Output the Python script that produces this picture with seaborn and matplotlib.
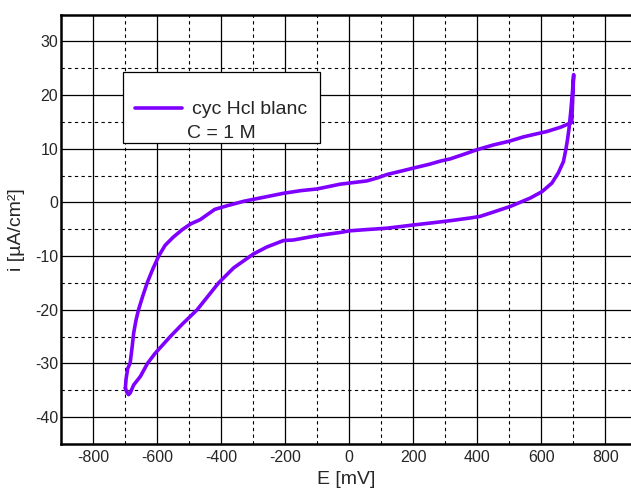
import matplotlib
matplotlib.use("Agg")
import matplotlib.pyplot as plt
from matplotlib.offsetbox import DrawingArea
import seaborn as sns
import pandas as pd
import numpy as np

# forward scan (-700 -> 700 mV)
E_fwd = [-699, -697, -692, -684, -678, -673, -666, -658, -645, -631, -614, -595, -575, -550,
         -522, -495, -465, -420, -380, -330, -280, -230, -205, -150, -101, -60, -28, 0, 55, 90,
         118, 160, 201, 250, 285, 315, 360, 398, 450, 500, 544, 580, 617, 660, 695, 701]
i_fwd = [-34.6, -33.0, -31.0, -29.9, -27.0, -24.3, -22.0, -20.0, -17.5, -15.0, -12.5, -10.0, -8.0, -6.5,
         -5.1, -4.0, -3.2, -1.3, -0.6, 0.2, 0.8, 1.4, 1.7, 2.2, 2.5, 3.0, 3.4, 3.6, 4.0, 4.6,
         5.2, 5.8, 6.4, 7.1, 7.7, 8.1, 9.0, 9.8, 10.7, 11.4, 12.2, 12.7, 13.2, 14.0, 14.9, 23.8]
# reverse scan (700 -> -700 mV)
E_rev = [697, 692, 687, 682, 677, 669, 653, 633, 602, 565, 503, 450, 409, 378, 316, 260,
         201, 160, 118, 45, 0, -28, -101, -174, -205, -257, -299, -361, -408, -475, -520, -559,
         -606, -630, -652, -673, -684, -689, -694, -699]
i_rev = [20.5, 17.0, 14.0, 11.8, 10.0, 7.6, 5.5, 3.6, 2.0, 0.8, -0.75, -1.8, -2.6, -2.9, -3.4, -3.8,
         -4.2, -4.5, -4.8, -5.1, -5.3, -5.6, -6.2, -7.0, -7.1, -8.3, -9.6, -12.2, -15.0, -20.0, -22.6, -25.0,
         -28.1, -30.0, -32.4, -34.0, -35.5, -35.8, -35.4, -34.6]

series_label = "cyc Hcl blanc"
conc_label = "C = 1 M"

E = E_fwd + E_rev
I = i_fwd + i_rev
df = pd.DataFrame({"E": E, "i": I, "s": series_label})

sns.set_style("white")
plt.rcParams["font.family"] = ["Liberation Sans", "DejaVu Sans"]
plt.rcParams["axes.unicode_minus"] = False

fig = plt.figure(figsize=(6.31, 4.88), dpi=100)
ax = fig.add_axes([61/631, 1-444/488, 1-61/631, (444-14.5)/488])

sns.lineplot(data=df, x="E", y="i", hue="s", sort=False, estimator=None,
             palette=["#7F00FF"], lw=2.6, ax=ax)

ax.set_xlim(-900, 880)
ax.set_ylim(-45, 35)
ax.set_xticks(np.arange(-800, 801, 200))
ax.set_xticks(np.arange(-700, 801, 200), minor=True)
ax.set_yticks(np.arange(-40, 31, 10))
ax.set_yticks(np.arange(-35, 31, 10), minor=True)
ax.grid(which="major", color="black", lw=0.9, ls="-")
ax.grid(which="minor", color="black", lw=0.8, ls=(0, (3, 3)))
ax.set_axisbelow(True)
ax.tick_params(which="both", length=0, labelsize=11.5, pad=2)
ax.tick_params(axis="x", pad=4)
for s in ["left", "bottom", "top"]:
    ax.spines[s].set_color("black")
    ax.spines[s].set_linewidth(1.8)
ax.spines["right"].set_visible(False)

ax.set_xlabel("E [mV]", fontsize=14, labelpad=5)
ax.set_ylabel("i [µA/cm²]", fontsize=14, labelpad=7)

handles, labels = ax.get_legend_handles_labels()
leg = ax.legend(handles, labels, title=conc_label, loc="upper left",
                bbox_to_anchor=(0.109, 0.866), fontsize=14, title_fontsize=14,
                frameon=True, fancybox=False, framealpha=1, edgecolor="black",
                handlelength=2.4, handletextpad=0.55, borderpad=0.05, borderaxespad=0,
                labelspacing=0.36, columnspacing=0)
leg.get_frame().set_linewidth(0.9)

def spacer(w, h):
    d = DrawingArea(w, h)
    d.set_figure(fig)
    return d

hb = leg._legend_handle_box._children
hb.insert(0, spacer(7.9, 0))
hb.append(spacer(8.5, 0))
kids = leg._legend_box._children
kids.reverse()
kids.insert(0, spacer(1, 15.0))

fig.savefig("out.png", dpi=100)
